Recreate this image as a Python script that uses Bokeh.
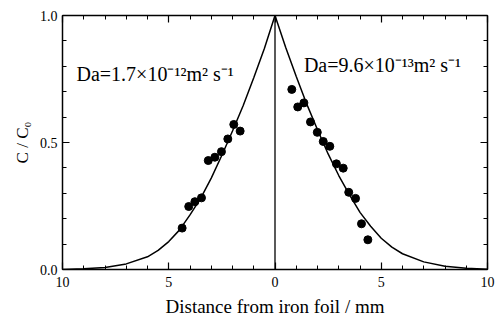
from bokeh.plotting import figure
from bokeh.models import Range1d, LinearAxis, FixedTicker, Label, Span
from bokeh.embed import file_html
from bokeh.resources import INLINE

# measured points (x: signed distance from foil, mm; y: C/C0)
left_x = [-1.94, -1.64, -2.22, -2.52, -2.83, -3.14, -3.46, -3.77, -4.06, -4.37]
left_y = [0.571, 0.545, 0.514, 0.464, 0.442, 0.429, 0.282, 0.267, 0.248, 0.163]
right_x = [0.79, 1.07, 1.36, 1.67, 1.99, 2.27, 2.58, 2.89, 3.21, 3.47, 3.79, 4.07, 4.37]
right_y = [0.709, 0.640, 0.656, 0.581, 0.540, 0.504, 0.485, 0.416, 0.399, 0.304, 0.280, 0.180, 0.117]

# fitted curves
curve_left_x = [-10, -9, -8, -7, -6, -5.5, -5, -4.5, -4, -3.5, -3, -2.5, -2, -1.5, -1, -0.5, 0]
curve_left_y = [0.0, 0.003, 0.008, 0.022, 0.05, 0.075, 0.11, 0.155, 0.215, 0.28, 0.36, 0.45,
                0.545, 0.645, 0.755, 0.87, 1.0]
curve_right_x = [0, 0.5, 1, 1.5, 2, 2.5, 3, 3.5, 4, 4.5, 5, 5.5, 6, 7, 8, 9, 10]
curve_right_y = [1.0, 0.875, 0.76, 0.65, 0.55, 0.455, 0.37, 0.295, 0.225, 0.17, 0.123, 0.088,
                 0.062, 0.03, 0.013, 0.005, 0.001]

x_ticks = [-10, -5, 0, 5, 10]
x_tick_labels = ["10", "5", "0", "5", "10"]
x_minor = list(range(-10, 11))
y_ticks = [0.0, 0.5, 1.0]
y_tick_labels = ["0.0", "0.5", "1.0"]
y_minor = [i / 10 for i in range(11)]

label_left = "Da=1.7×10⁻¹²m² s⁻¹"
label_right = "Da=9.6×10⁻¹³m² s⁻¹"

FONT = "Liberation Serif"

p = figure(width=498, height=319, output_backend="svg", toolbar_location=None,
           x_range=Range1d(-10, 10), y_range=Range1d(0, 1),
           min_border_left=62, min_border_right=11, min_border_top=15, min_border_bottom=50)
p.xgrid.visible = False
p.ygrid.visible = False
p.outline_line_color = None
p.background_fill_color = "white"

def style(ax, ticks, minor, labels, show_labels):
    ax.ticker = FixedTicker(ticks=ticks, minor_ticks=minor)
    ax.major_label_overrides = {t: l for t, l in zip(ticks, labels)}
    ax.major_tick_in = 7
    ax.major_tick_out = 0
    ax.minor_tick_in = 4
    ax.minor_tick_out = 0
    ax.axis_line_color = "black"
    ax.axis_line_width = 1.5
    ax.major_tick_line_width = 1.2
    ax.minor_tick_line_width = 1.0
    ax.major_label_text_font = FONT
    ax.major_label_text_font_size = "14px" if show_labels else "0px"
    ax.major_label_text_color = "black"
    ax.major_label_standoff = 5 if show_labels else 0

style(p.xaxis[0], x_ticks, x_minor, x_tick_labels, True)
style(p.yaxis[0], y_ticks, y_minor, y_tick_labels, True)
p.xaxis[0].major_label_standoff = 7
p.yaxis[0].major_label_standoff = 5
p.xaxis[0].axis_label = "Distance from iron foil / mm"
p.yaxis[0].axis_label = "C / C₀"
for ax in (p.xaxis[0], p.yaxis[0]):
    ax.axis_label_text_font = FONT
    ax.axis_label_text_font_style = "normal"
    ax.axis_label_text_color = "black"
p.xaxis[0].axis_label_text_font_size = "19px"
p.xaxis[0].axis_label_standoff = 6
p.yaxis[0].axis_label_text_font_size = "17px"
p.yaxis[0].axis_label_standoff = 5

top = LinearAxis()
style(top, x_ticks, x_minor, ["", "", "", "", ""], False)
right = LinearAxis()
style(right, y_ticks, y_minor, ["", "", ""], False)
p.add_layout(top, "above")
p.add_layout(right, "right")

p.add_layout(Span(location=0, dimension="height", line_color="black", line_width=1.3))

p.line(curve_left_x, curve_left_y, line_color="black", line_width=1.5)
p.line(curve_right_x, curve_right_y, line_color="black", line_width=1.5)

p.scatter(left_x, left_y, size=8, marker="circle", fill_color="black", line_color="black")
p.scatter(right_x, right_y, size=8, marker="circle", fill_color="black", line_color="black")

p.add_layout(Label(x=-9.34, y=0.768, text=label_left, text_font=FONT, text_font_size="20px",
                   text_color="black", text_baseline="alphabetic"))
p.add_layout(Label(x=1.36, y=0.807, text=label_right, text_font=FONT, text_font_size="20px",
                   text_color="black", text_baseline="alphabetic"))

open("out.html", "w").write(file_html(p, INLINE))
